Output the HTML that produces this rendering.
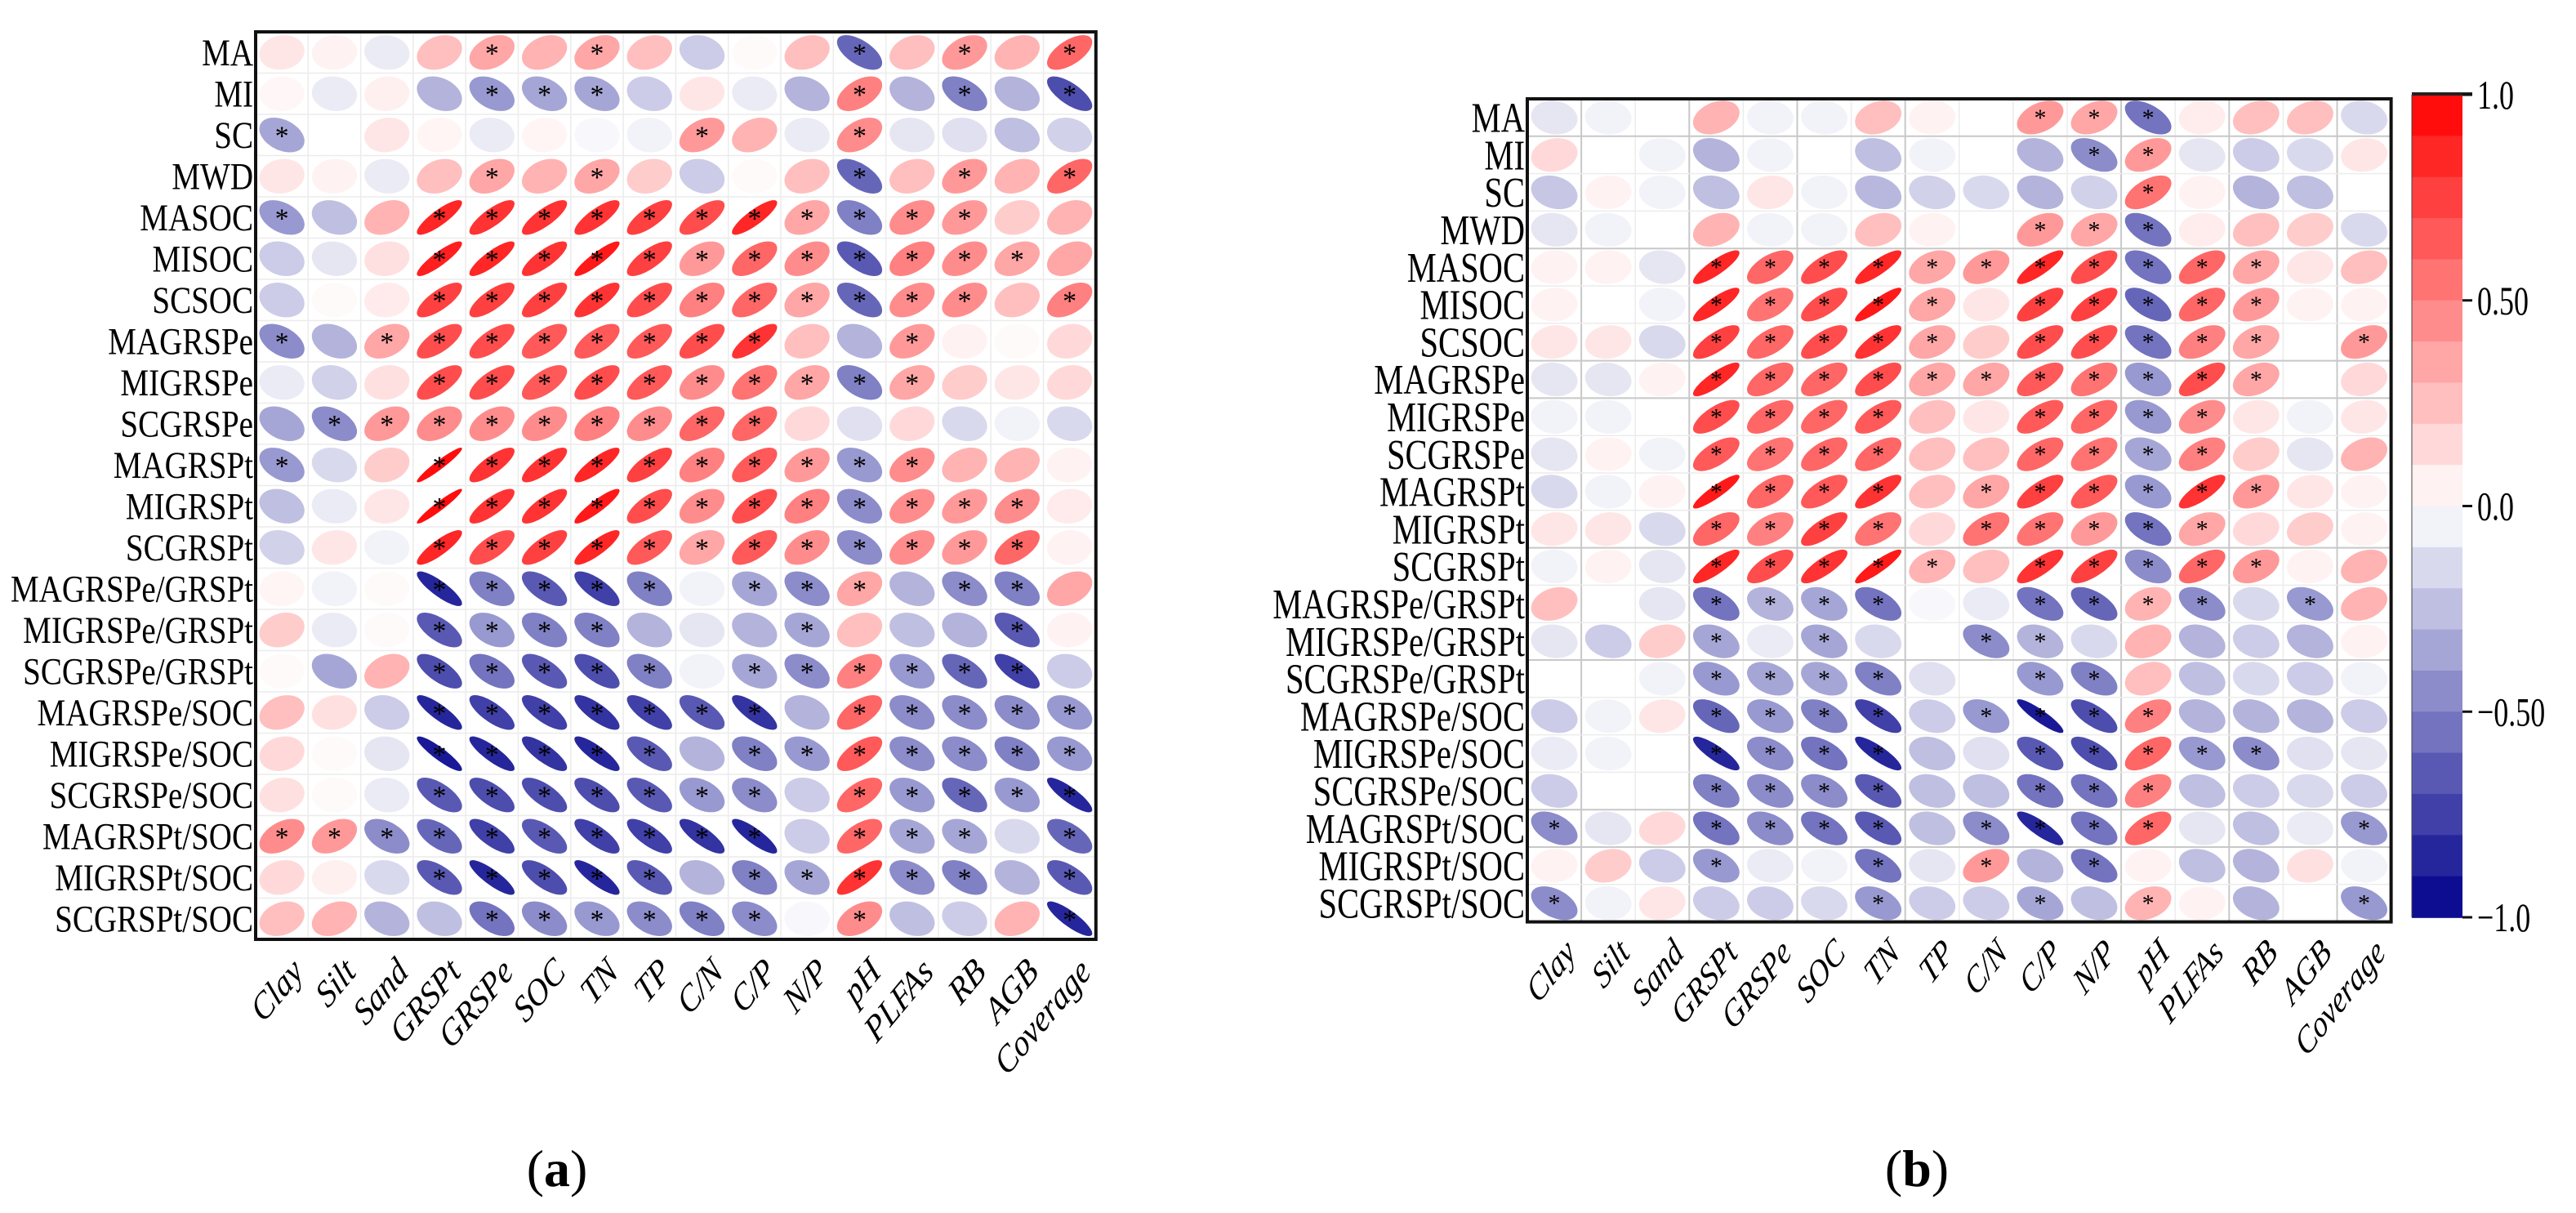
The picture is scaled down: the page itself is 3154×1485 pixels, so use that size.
<!DOCTYPE html>
<html><head><meta charset="utf-8"><style>
html,body{margin:0;padding:0;background:#fff}
svg{display:block}
text{font-family:"Liberation Serif","DejaVu Serif",serif;fill:#000}
</style></head><body>
<svg id="chart" width="3154" height="1485" viewBox="0 0 3154 1485" xmlns="http://www.w3.org/2000/svg"></svg>
<script>
const rowLabels=["MA","MI","SC","MWD","MASOC","MISOC","SCSOC","MAGRSPe","MIGRSPe","SCGRSPe","MAGRSPt","MIGRSPt","SCGRSPt","MAGRSPe/GRSPt","MIGRSPe/GRSPt","SCGRSPe/GRSPt","MAGRSPe/SOC","MIGRSPe/SOC","SCGRSPe/SOC","MAGRSPt/SOC","MIGRSPt/SOC","SCGRSPt/SOC"];
const colLabels=["Clay","Silt","Sand","GRSPt","GRSPe","SOC","TN","TP","C/N","C/P","N/P","pH","PLFAs","RB","AGB","Coverage"];
const valuesA=[
[0.1,0.05,-0.08,0.25,0.35,0.3,0.35,0.25,-0.2,0.02,0.25,-0.6,0.25,0.4,0.3,0.6],
[0.03,-0.08,0.06,-0.3,-0.4,-0.35,-0.35,-0.2,0.1,-0.08,-0.3,0.5,-0.3,-0.5,-0.3,-0.7],
[-0.35,0,0.1,0.04,-0.08,0.04,-0.03,-0.05,0.4,0.3,-0.08,0.45,-0.1,-0.12,-0.25,-0.18],
[0.1,0.05,-0.08,0.25,0.35,0.3,0.35,0.2,-0.2,0.02,0.25,-0.6,0.25,0.4,0.3,0.6],
[-0.4,-0.25,0.3,0.85,0.8,0.8,0.8,0.75,0.7,0.85,0.35,-0.5,0.45,0.4,0.2,0.3],
[-0.2,-0.1,0.12,0.88,0.85,0.8,0.9,0.75,0.4,0.6,0.45,-0.65,0.5,0.45,0.35,0.35],
[-0.2,0.02,0.08,0.75,0.75,0.75,0.8,0.7,0.5,0.6,0.35,-0.6,0.45,0.45,0.25,0.5],
[-0.45,-0.3,0.35,0.7,0.7,0.65,0.65,0.65,0.7,0.8,0.25,-0.3,0.4,0.05,0.02,0.15],
[-0.08,-0.18,0.12,0.7,0.7,0.65,0.7,0.65,0.45,0.55,0.35,-0.5,0.35,0.2,0.1,0.15],
[-0.35,-0.45,0.4,0.45,0.45,0.45,0.5,0.45,0.6,0.6,0.15,-0.12,0.15,-0.15,-0.05,-0.15],
[-0.4,-0.15,0.2,0.95,0.8,0.8,0.85,0.75,0.5,0.65,0.4,-0.4,0.45,0.3,0.3,0.05],
[-0.25,-0.08,0.1,0.95,0.8,0.8,0.9,0.7,0.45,0.7,0.5,-0.45,0.45,0.4,0.45,0.08],
[-0.18,0.1,-0.05,0.85,0.7,0.75,0.85,0.65,0.35,0.65,0.45,-0.45,0.45,0.4,0.6,0.05],
[0.04,-0.05,0.02,-0.85,-0.5,-0.65,-0.75,-0.5,-0.05,-0.35,-0.45,0.35,-0.3,-0.45,-0.5,0.35],
[0.2,-0.08,0.02,-0.65,-0.4,-0.5,-0.5,-0.3,-0.1,-0.3,-0.35,0.25,-0.25,-0.3,-0.65,0.05],
[0.02,-0.35,0.3,-0.7,-0.55,-0.65,-0.7,-0.5,-0.05,-0.35,-0.45,0.5,-0.4,-0.6,-0.75,-0.2],
[0.25,0.12,-0.2,-0.85,-0.75,-0.75,-0.8,-0.75,-0.65,-0.8,-0.3,0.6,-0.45,-0.45,-0.45,-0.4],
[0.15,0.02,-0.1,-0.9,-0.85,-0.8,-0.85,-0.65,-0.3,-0.5,-0.4,0.65,-0.45,-0.45,-0.5,-0.4],
[0.12,0.02,-0.08,-0.65,-0.7,-0.7,-0.7,-0.65,-0.4,-0.45,-0.2,0.6,-0.4,-0.6,-0.4,-0.85],
[0.45,0.4,-0.45,-0.6,-0.75,-0.65,-0.75,-0.75,-0.8,-0.85,-0.2,0.6,-0.35,-0.35,-0.15,-0.6],
[0.15,0.06,-0.15,-0.65,-0.85,-0.7,-0.85,-0.65,-0.3,-0.5,-0.35,0.8,-0.45,-0.5,-0.3,-0.65],
[0.25,0.3,-0.3,-0.25,-0.55,-0.45,-0.4,-0.45,-0.5,-0.45,-0.03,0.45,-0.25,-0.2,0.3,-0.85]];
const sigA=["0000101000010101","0000111000010101","1000000010010000","0000101000010101","1001111111111100","0001111111111110","0001111111111101","1011111111001000","0001111111111000","0111111111000000","1001111111111000","0001111111111110","0001111111111110","0001111101110110","0001111000100010","0001111101111110","0001111111011111","0001111101111111","0001111111011111","1111111111011101","0001111101111101","0000111111010001"];
const valuesB=[
[-0.1,-0.05,0,0.3,-0.05,-0.05,0.25,0.05,0,0.4,0.35,-0.55,0.07,0.25,0.25,-0.15],
[0.15,0,-0.05,-0.3,-0.05,0,-0.25,-0.05,0,-0.3,-0.45,0.4,-0.1,-0.2,-0.15,0.1],
[-0.22,0.05,-0.05,-0.25,0.1,-0.05,-0.28,-0.18,-0.15,-0.3,-0.18,0.55,0.05,-0.3,-0.25,0],
[-0.1,-0.05,0,0.3,-0.05,-0.05,0.25,0.05,0,0.4,0.35,-0.55,0.07,0.25,0.2,-0.15],
[0.05,0.05,-0.1,0.85,0.6,0.7,0.85,0.35,0.4,0.85,0.7,-0.55,0.6,0.35,0.1,0.25],
[0.05,0,-0.05,0.85,0.55,0.7,0.9,0.35,0.1,0.75,0.75,-0.6,0.6,0.4,0.05,0.05],
[0.1,0.1,-0.15,0.75,0.6,0.7,0.8,0.35,0.2,0.7,0.7,-0.55,0.5,0.35,0,0.4],
[-0.1,-0.1,0.05,0.85,0.6,0.6,0.7,0.35,0.35,0.65,0.55,-0.4,0.7,0.35,0,0.15],
[-0.05,-0.05,0,0.7,0.6,0.6,0.65,0.25,0.1,0.65,0.6,-0.4,0.45,0.1,-0.05,0.1],
[-0.1,0.05,-0.05,0.65,0.55,0.6,0.6,0.25,0.25,0.6,0.55,-0.35,0.5,0.2,-0.1,0.3],
[-0.15,-0.05,0.05,0.9,0.6,0.65,0.8,0.25,0.35,0.75,0.65,-0.4,0.8,0.4,0.1,0.05],
[0.1,0.1,-0.15,0.6,0.5,0.75,0.55,0.15,0.55,0.55,0.4,-0.55,0.35,0.15,0.2,0.05],
[-0.05,0.05,-0.1,0.85,0.7,0.8,0.9,0.3,0.25,0.8,0.75,-0.45,0.6,0.4,0.05,0.3],
[0.25,0,-0.1,-0.55,-0.3,-0.35,-0.55,-0.03,-0.08,-0.55,-0.6,0.3,-0.45,-0.15,-0.4,0.3],
[-0.1,-0.2,0.2,-0.35,-0.08,-0.35,-0.15,0,-0.45,-0.3,-0.15,0.3,-0.3,-0.2,-0.3,0.05],
[0,0,-0.05,-0.4,-0.35,-0.35,-0.5,-0.12,0,-0.4,-0.5,0.25,-0.25,-0.15,-0.2,-0.05],
[-0.2,-0.05,0.1,-0.6,-0.4,-0.5,-0.75,-0.2,-0.4,-0.9,-0.7,0.5,-0.3,-0.3,-0.3,-0.2],
[-0.08,-0.05,0,-0.85,-0.45,-0.55,-0.85,-0.25,-0.12,-0.65,-0.7,0.6,-0.4,-0.45,-0.12,-0.1],
[-0.2,0,0,-0.5,-0.45,-0.45,-0.65,-0.25,-0.25,-0.55,-0.55,0.5,-0.25,-0.2,-0.15,-0.2],
[-0.45,-0.1,0.15,-0.55,-0.45,-0.55,-0.65,-0.25,-0.45,-0.85,-0.55,0.6,-0.1,-0.25,-0.08,-0.4],
[0.05,0.2,-0.2,-0.4,-0.08,-0.05,-0.55,-0.1,0.4,-0.3,-0.55,0.05,-0.25,-0.3,0.12,-0.05],
[-0.45,-0.05,0.1,-0.2,-0.2,-0.15,-0.4,-0.2,-0.2,-0.35,-0.25,0.3,0.05,-0.3,0,-0.4]];
const sigB=["0000000001110000","0000000000110000","0000000000010000","0000000001110000","0001111111111100","0001111101111100","0001111101111101","0001111111111100","0001111001111000","0001111001111000","0001111011111100","0001111011111000","0001111101111100","0001111001111010","0001010011000000","0001111001100000","0001111011110000","0001111001111100","0001111001110000","1001111011110001","0001001010100000","1000001001010001"];
const colorTicks=[1.0,0.5,0.0,-0.5,-1.0];
const colorTickLabels=["1.0","0.50","0.0","\u22120.50","\u22121.0"];

const NS="http://www.w3.org/2000/svg";
const svg=document.getElementById('chart');
function mk(tag,attrs,parent){const e=document.createElementNS(NS,tag);for(const k in attrs)e.setAttribute(k,attrs[k]);(parent||svg).appendChild(e);return e;}
function col(r){const t=Math.min(1,Math.abs(r));
  if(r>=0){const g=Math.round(255*(1-t));return `rgb(255,${g},${g})`;}
  const v=Math.round(255*(1-t));return `rgb(${v},${v},${Math.round(255-116*t)})`;}

function panel(cfg){
  const {id,left,top,cw,ch,vals,sig,fs,sx,cfs,darkRows,darkCols}=cfg;
  const nR=rowLabels.length,nC=colLabels.length;
  const W=cw*nC,H=ch*nR;
  const xS=j=>left+cw*(j+0.5), yS=i=>top+ch*(i+0.5);
  const g=mk('g',{});
  
  
  const grid=mk('g',{},g);
  
  
  for(let j=1;j<nC;j++){const dk=darkCols&&darkCols.includes(j);
    mk('line',{x1:left+cw*j,x2:left+cw*j,y1:top,y2:top+H,stroke:dk?'#c8c8c8':'#ececec','stroke-width':dk?2:1.5},grid);}
  for(let i=1;i<nR;i++){const dk=darkRows&&darkRows.includes(i);
    mk('line',{x1:left,x2:left+W,y1:top+ch*i,y2:top+ch*i,stroke:dk?'#c8c8c8':'#ececec','stroke-width':dk?2:1.5},grid);}
  const rx=cw*0.43, ry=ch*cfg.ey;
  for(let i=0;i<nR;i++)for(let j=0;j<nC;j++){
    const r=vals[i][j]; if(Math.abs(r)<0.005) continue;
    const d=Math.acos(Math.max(-0.97,Math.min(0.97,r)));
    let pts=[];
    for(let k=0;k<72;k++){const t=k/72*2*Math.PI;
      pts.push((xS(j)+Math.cos(t+d/2)*rx).toFixed(1)+','+(yS(i)-Math.cos(t-d/2)*ry).toFixed(1));}
    const p=mk('polygon',{points:pts.join(' '),fill:col(r)},g);
    
    
    if(sig[i][j]==='1'){
      const s=mk('text',{x:xS(j),y:yS(i)+cfg.starDy,'text-anchor':'middle','font-size':cfg.starFs,fill:'#222'},g);
      s.textContent='*';
      
      
    }
  }
  const b=mk('rect',{x:left,y:top,width:W,height:H,fill:'none',stroke:'#111','stroke-width':4},g);
  
  
  for(let i=0;i<nR;i++){
    const tg=mk('g',{transform:`translate(${left-3},${yS(i)+fs*0.34}) scale(${sx},1)`},g);
    const t=mk('text',{x:0,y:0,'text-anchor':'end','font-size':fs},tg);
    t.textContent=rowLabels[i];
    
    
  }
  for(let j=0;j<nC;j++){
    const tg=mk('g',{transform:`translate(${xS(j)+cfg.lx},${top+H+cfg.ly}) scale(${sx},1) rotate(-45)`},g);
    const t=mk('text',{x:0,y:0,'text-anchor':'end','font-size':cfs,'font-style':'italic'},tg);
    t.textContent=colLabels[j];
    
    
  }
}
panel({id:'a',left:313,top:39,cw:64.3,ch:50.5,vals:valuesA,sig:sigA,fs:47,sx:0.83,cfs:46,ey:0.42,starFs:34,starDy:12,lx:28,ly:42});
panel({id:'b',left:1870,top:121,cw:66.1,ch:45.8,vals:valuesB,sig:sigB,fs:52,sx:0.78,cfs:46,ey:0.45,starFs:30,starDy:10,lx:28,ly:40,
  darkRows:[1,4,7,8,12,15,19,20],darkCols:[1,3,5,7,11,13,15]});

// colorbar
const cb=mk('g',{});


const cbX=2953,cbW=62,cbTop=116,cbBot=1123;
const cy=v=>cbTop+(1-v)/2*(cbBot-cbTop);
for(let k=0;k<20;k++){const v1=1-k*0.1,v2=v1-0.1;const mid=(v1+v2)/2;
  mk('rect',{x:cbX,y:cy(v1),width:cbW,height:cy(v2)-cy(v1)+0.8,fill:col(mid)},cb);}
mk('rect',{x:cbX,y:cbTop-3,width:cbW+12,height:4,fill:'#222'},cb);
mk('line',{x1:cbX,x2:cbX,y1:cbTop,y2:cbBot,stroke:'#444','stroke-width':1},cb);
colorTicks.forEach((v,k)=>{
  mk('line',{x1:cbX+cbW,x2:cbX+cbW+12,y1:cy(v),y2:cy(v),stroke:'#111','stroke-width':3},cb);
  const tg=mk('g',{transform:`translate(${cbX+cbW+18},${cy(v)+17}) scale(0.72,1)`},cb);
  const t=mk('text',{x:0,y:0,'font-size':50},tg);
  t.textContent=colorTickLabels[k];
  
  
});
// panel captions
[["(","a",")",682],["(","b",")",2347]].forEach(c=>{
  const t=mk('text',{x:c[3],y:1452,'text-anchor':'middle','font-size':64});
  
  
  const a=mk('tspan',{},t);a.textContent=c[0];
  const b2=mk('tspan',{'font-weight':'bold'},t);b2.textContent=c[1];
  const d=mk('tspan',{},t);d.textContent=c[2];
});
</script>
</body></html>
